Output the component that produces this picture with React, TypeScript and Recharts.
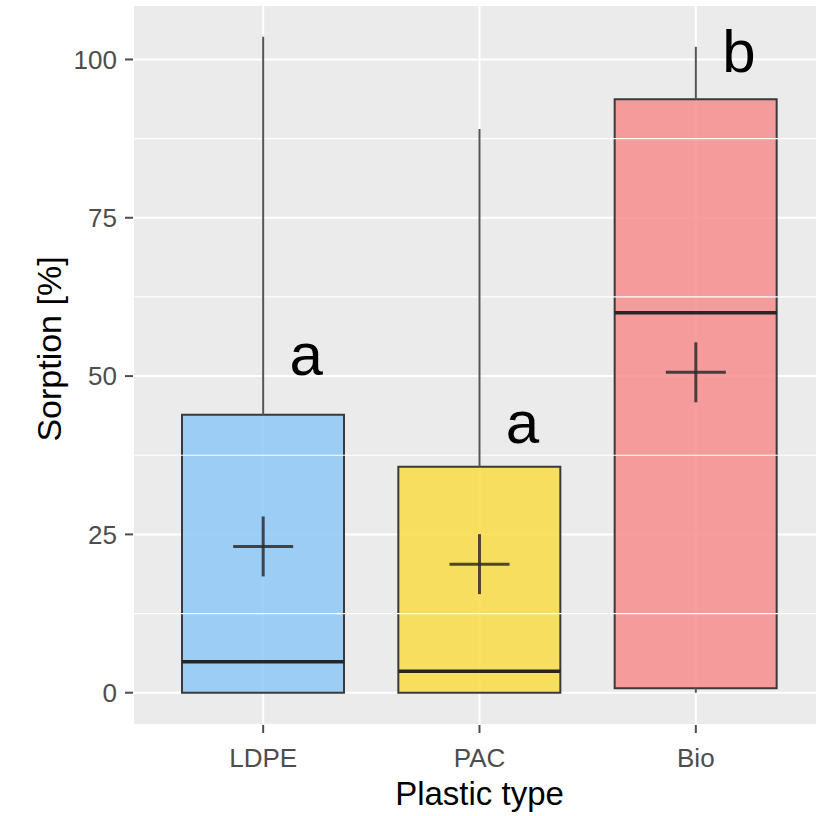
import React from 'react';
import {
  ComposedChart,
  Bar,
  Cell,
  Scatter,
  ErrorBar,
  XAxis,
  YAxis,
  CartesianGrid,
  ReferenceLine,
} from 'recharts';

// plastic types and their box stats (Sorption %)
const types = ['LDPE', 'PAC', 'Bio'];
const whiskerLow = [0, 0, 0];
const q1 = [0, 0, 0.7];
const medians = [4.9, 3.4, 60.0];
const q3 = [43.9, 35.7, 93.7];
const whiskerHigh = [103.6, 89.0, 102.0];
const means = [23.1, 20.3, 50.6];
const letters = ['a', 'a', 'b'];
const letterPos = [50.2, 39.5, 98.0];
// base colours, drawn at 85% opacity over the grey panel
const colors = ['#8DC8F7', '#FADC46', '#F88D8E'];

const yTicks = [0, 25, 50, 75, 100];
const yMinor = [12.5, 37.5, 62.5, 87.5];

const data = types.map((type, i) => ({
  type,
  lo: whiskerLow[i],
  q1: q1[i],
  median: medians[i],
  q3: q3[i],
  hi: whiskerHigh[i],
  mean: means[i],
  letter: letters[i],
  letterY: letterPos[i],
}));

const BOX_W = 162;
const FONT = '"Liberation Sans", Arial, sans-serif';

const MedianShape = (props: any) => {
  const { cx, cy } = props;
  if (cx == null || cy == null) return <g />;
  return (
    <line x1={cx - BOX_W / 2} x2={cx + BOX_W / 2} y1={cy} y2={cy} stroke="#262626" strokeWidth={3.5} />
  );
};

const CrossShape = (props: any) => {
  const { cx, cy } = props;
  if (cx == null || cy == null) return <g />;
  return (
    <g stroke="#2b2b2b" strokeWidth={3} strokeOpacity={0.85}>
      <line x1={cx - 30} x2={cx + 30} y1={cy} y2={cy} />
      <line x1={cx} x2={cx} y1={cy - 30} y2={cy + 30} />
    </g>
  );
};

const LetterShape = (props: any) => {
  const { cx, cy, payload } = props;
  if (cx == null || cy == null) return <g />;
  return (
    <text x={cx + 43} y={cy} textAnchor="middle" fontSize={60} fontFamily={FONT} fill="#000">
      {payload.letter}
    </text>
  );
};

const Empty = () => <g />;

const YTitle = (props: any) => {
  const vb = props.viewBox || { x: 0, y: 0, height: 0 };
  const x = vb.x + 49;
  const y = vb.y + vb.height / 2 - 16;
  return (
    <text
      x={x}
      y={y}
      transform={`rotate(-90, ${x}, ${y})`}
      textAnchor="middle"
      dominantBaseline="central"
      fontSize={34}
      fontFamily={FONT}
      fill="#000"
    >
      Sorption [%]
    </text>
  );
};

export default function App() {
  return (
    <div style={{ position: 'absolute', left: 0, top: 0, width: 816, height: 816, overflow: 'hidden', background: '#fff' }}>
      <ComposedChart width={830} height={816} data={data} margin={{ top: 5, right: 4, left: 0, bottom: 0 }}>
        <CartesianGrid fill="#EBEBEB" stroke="#FFFFFF" strokeWidth={2} />
        {yMinor.map((v) => (
          <ReferenceLine key={v} y={v} stroke="#FFFFFF" strokeWidth={1.2} />
        ))}
        <XAxis
          dataKey="type"
          type="category"
          padding={{ left: 22, right: 22 }}
          axisLine={false}
          tickSize={8}
          tickMargin={16}
          tickLine={{ stroke: '#4D4D4D', strokeWidth: 2 }}
          tick={{ fontSize: 26, fill: '#4D4D4D', fontFamily: FONT }}
          height={91}
          label={{ value: 'Plastic type', position: 'insideBottom', offset: 11, fontSize: 33, fill: '#000', fontFamily: FONT }}
        />
        <YAxis
          type="number"
          domain={[-5.1, 108.6]}
          allowDataOverflow
          ticks={yTicks}
          width={133}
          axisLine={false}
          tickSize={8}
          tickMargin={8}
          tickLine={{ stroke: '#4D4D4D', strokeWidth: 2 }}
          tick={{ fontSize: 26, fill: '#4D4D4D', fontFamily: FONT }}
          label={<YTitle />}
        />
        <Scatter dataKey="q3" shape={Empty} isAnimationActive={false}>
          <ErrorBar
            direction="y"
            dataKey={(d: any) => [0, d.hi - d.q3]}
            width={0}
            stroke="#555555"
            strokeWidth={2}
          />
        </Scatter>
        <Scatter dataKey="q1" shape={Empty} isAnimationActive={false}>
          <ErrorBar
            direction="y"
            dataKey={(d: any) => [d.q1 - d.lo, 0]}
            width={0}
            stroke="#555555"
            strokeWidth={2}
          />
        </Scatter>
        <Bar
          dataKey={(d: any) => [d.q1, d.q3]}
          barSize={BOX_W}
          stroke="#3a3a3a"
          strokeWidth={2}
          isAnimationActive={false}
        >
          {data.map((d, i) => (
            <Cell key={d.type} fill={colors[i]} fillOpacity={0.85} />
          ))}
        </Bar>
        <Scatter dataKey="median" shape={MedianShape} isAnimationActive={false} />
        <Scatter dataKey="mean" shape={CrossShape} isAnimationActive={false} />
        <Scatter dataKey="letterY" shape={LetterShape} isAnimationActive={false} />
      </ComposedChart>
    </div>
  );
}
